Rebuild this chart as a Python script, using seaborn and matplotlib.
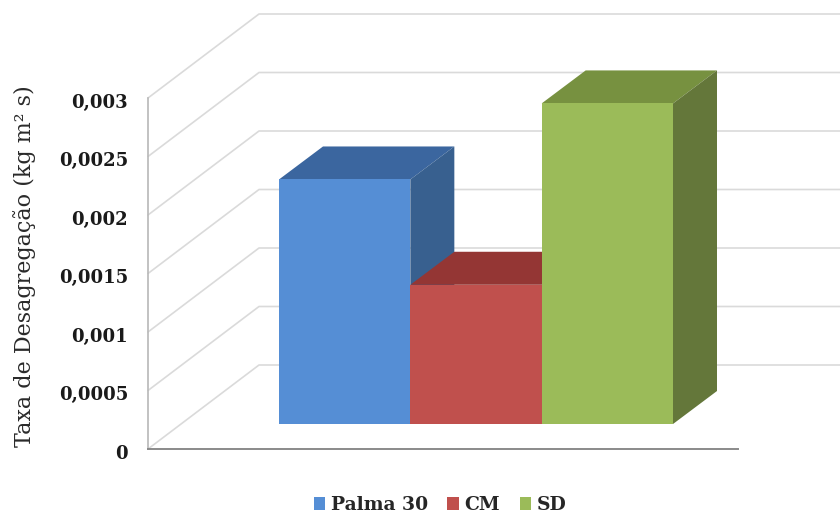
import matplotlib
matplotlib.use("Agg")
import matplotlib.pyplot as plt
import matplotlib.transforms as mtrans
import seaborn as sns
import pandas as pd
from matplotlib.patches import Polygon, Patch

categories = ["Palma 30", "CM", "SD"]
values = [0.00209, 0.00119, 0.00274]
tick_values = [0, 0.0005, 0.001, 0.0015, 0.002, 0.0025, 0.003]
tick_labels = ["0", "0,0005", "0,001", "0,0015", "0,002", "0,0025", "0,003"]
front_colors = ["#558ED5", "#C0504D", "#9BBB59"]
top_colors = ["#3B669F", "#943634", "#779140"]
side_colors = ["#38608F", "#943634", "#64773A"]
ylabel = "Taxa de Desagregação (kg m² s)"

W, H = 840, 515
sns.set_theme(style="white")
plt.rcParams["font.family"] = ["DejaVu Serif", "Liberation Serif"]
fig = plt.figure(figsize=(W / 100, H / 100), dpi=100, facecolor="white")


def px_axes(left, top, right, bottom):
    return fig.add_axes([left / W, 1 - bottom / H, (right - left) / W, (bottom - top) / H])


# front plane of the chart: axis lines, ticks and wall grid
ax = px_axes(148, 98, 738, 449)
ax.patch.set_visible(False)
ax.set_xlim(0, 590)
ax.set_ylim(0, 0.003)
ax.set_xticks([])
ax.set_yticks(tick_values)
ax.set_yticklabels(tick_labels, fontsize=13, fontweight="bold", color="#1a1a1a")
ax.tick_params(axis="y", length=0, pad=14.4)
shift = mtrans.ScaledTranslation(0, -2 / 72, fig.dpi_scale_trans)
for lab in ax.get_yticklabels():
    lab.set_transform(lab.get_transform() + shift)
for name in ["top", "right"]:
    ax.spines[name].set_visible(False)
ax.spines["left"].set_color("#b8b8b8")
ax.spines["left"].set_linewidth(1.2)
ax.spines["bottom"].set_color("#8a8a8a")
ax.spines["bottom"].set_linewidth(1.4)
ax.set_ylabel(ylabel, fontsize=16, color="#2a2a2a")
ax.yaxis.set_label_coords((36 - 148) / 590, 0.52)

wall_dx = 111
wall_dy = 84 / 351 * 0.003
wall_right = 700
for t in tick_values:
    ax.plot([0, wall_dx, wall_right], [t, t + wall_dy, t + wall_dy],
            color="#dadada", lw=1.2, clip_on=False, zorder=0.5)

# bars, on their own plane in the middle of the depth
bx = px_axes(279, 73, 673, 424)
bx.patch.set_visible(False)
df = pd.DataFrame({"cat": categories, "val": values})
sns.barplot(data=df, x="cat", y="val", hue="cat", hue_order=categories,
            palette=front_colors, width=1, saturation=1, legend=False,
            ax=bx, zorder=3, linewidth=0)
bx.set_xlim(-0.5, 2.5)
bx.set_ylim(0, 0.003)
bx.axis("off")

dx = 44 / 131.33
dy = 33 / 351 * 0.003
for i in range(3):
    v = values[i]
    l, r = i - 0.5, i + 0.5
    bx.add_patch(Polygon([(l, v), (r, v), (r + dx, v + dy), (l + dx, v + dy)],
                         closed=True, facecolor=top_colors[i], edgecolor="none",
                         clip_on=False, zorder=1 + i * 0.1))
    bx.add_patch(Polygon([(r, 0), (r, v), (r + dx, v + dy), (r + dx, dy)],
                         closed=True, facecolor=side_colors[i], edgecolor="none",
                         clip_on=False, zorder=1 + i * 0.1))

handles = [Patch(facecolor=c, edgecolor="none", label=n) for c, n in zip(front_colors, categories)]
fig.legend(handles=handles, loc="center", bbox_to_anchor=(440 / W, 1 - 505 / H),
           ncol=3, frameon=False, handlelength=0.6, handleheight=0.7,
           handletextpad=0.3, columnspacing=1.05,
           prop={"size": 13.5, "weight": "bold", "family": "DejaVu Serif"})

fig.savefig("out.png", dpi=100, facecolor="white")
